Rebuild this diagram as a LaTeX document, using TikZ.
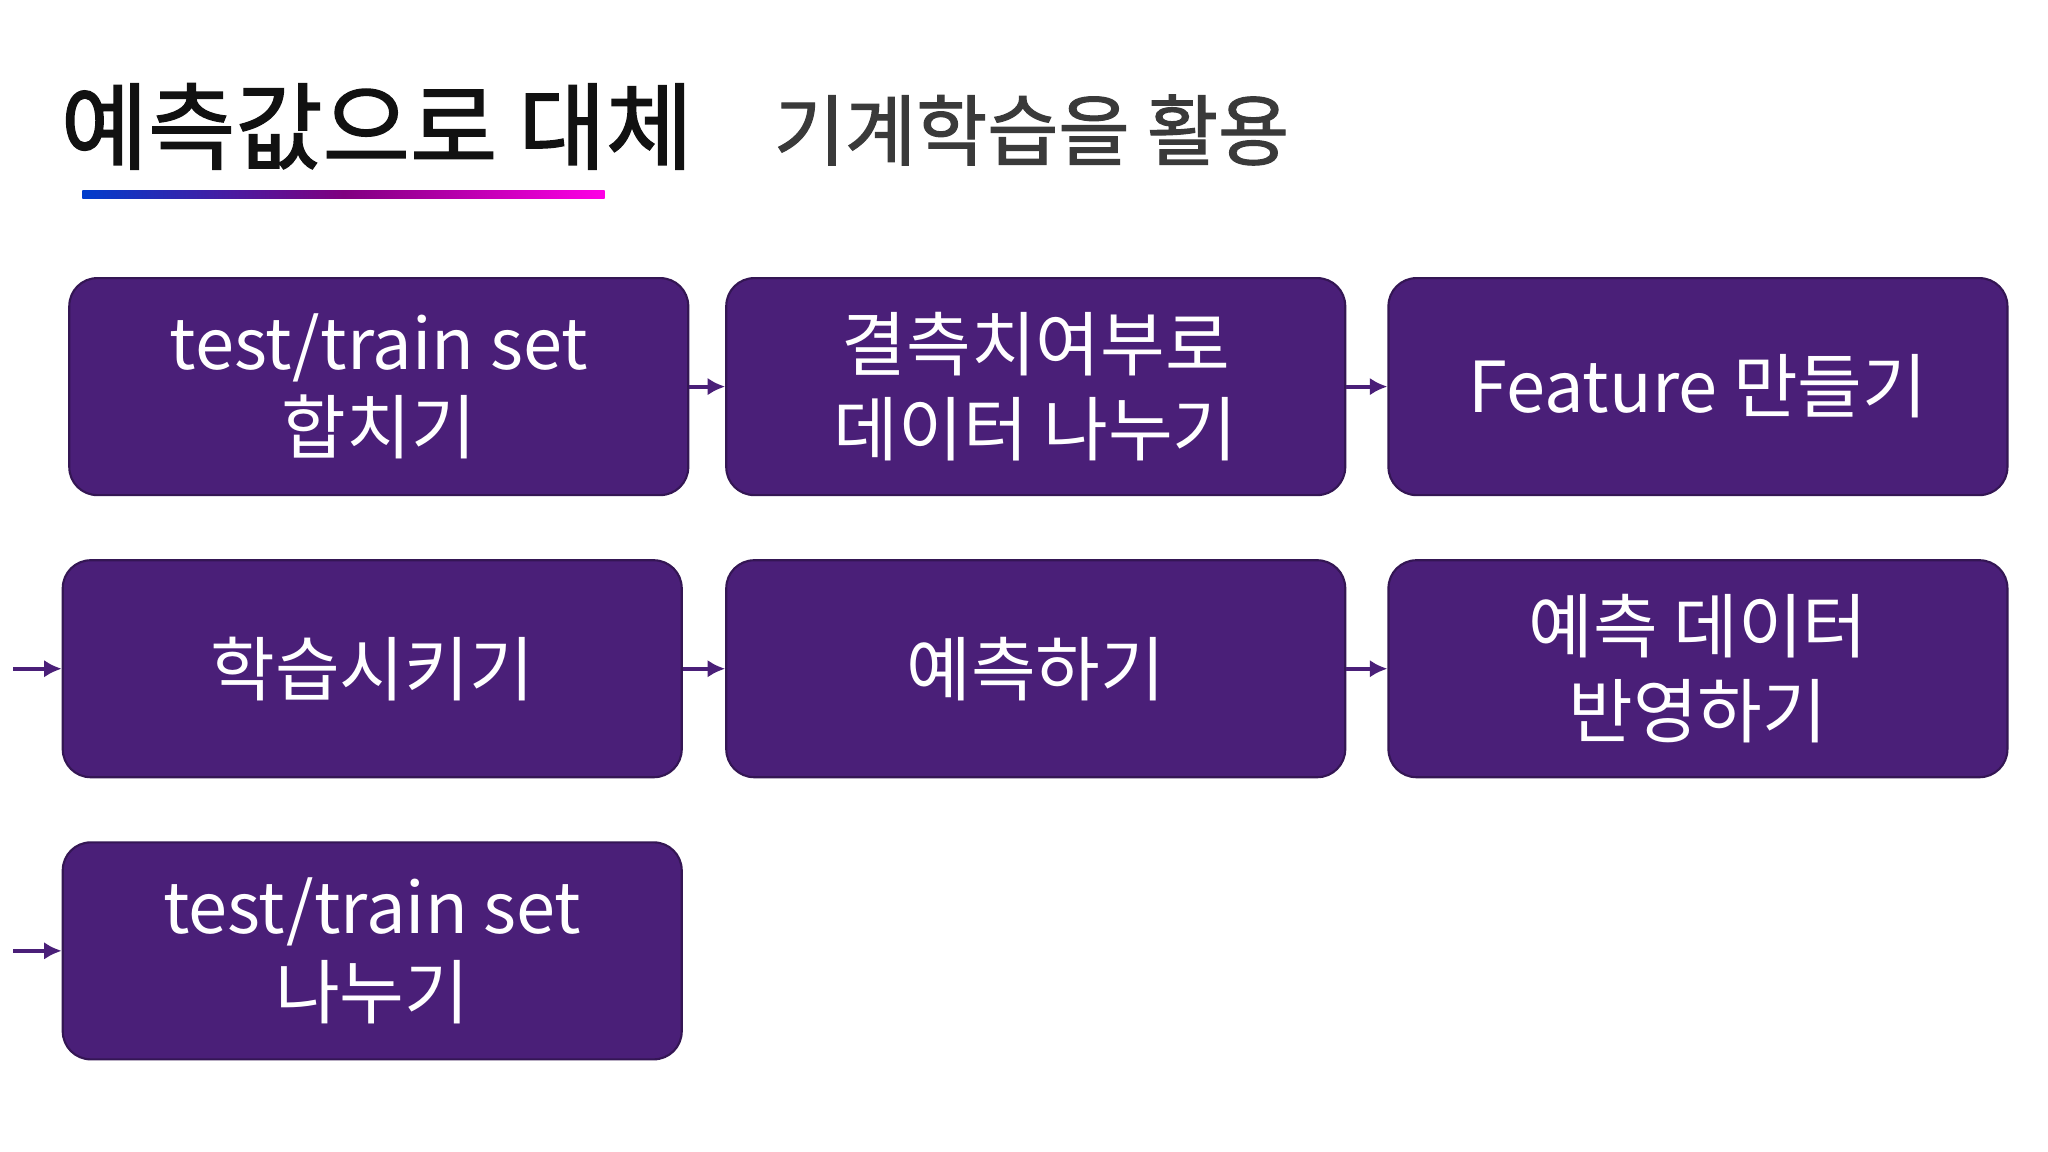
\documentclass[tikz,border=0pt]{standalone}
\usepackage{fontspec}
\setmainfont{Noto Sans CJK KR}
\newfontfamily\krbold[FakeBold=1.5]{Noto Sans CJK KR}
\usetikzlibrary{arrows.meta}
\definecolor{boxc}{HTML}{4A1F78}
\definecolor{arrc}{HTML}{4A1F78}
\definecolor{ttl}{HTML}{111111}
\definecolor{sub}{HTML}{3A3A3A}
\tikzset{
  stepbox/.style={draw=boxc!70!black, line width=0.6pt, fill=boxc, rounded corners=0.28cm, minimum width=6.19cm, minimum height=2.17cm, text=white, align=center, font=\fontsize{20}{24}\selectfont, inner sep=0pt},
  flow/.style={draw=arrc, line width=1.2pt, -{Latex[length=5pt,width=5pt]}}
}
\begin{document}
\begin{tikzpicture}[x=0.01306cm,y=-0.01306cm]
\useasboundingbox[fill=white] (0,0) rectangle (1568,882);
\node[anchor=base west, text=ttl, font=\krbold\fontsize{27}{30}\selectfont, inner sep=0pt] (t1) at (46,124) {예측값으로 대체};
\node[anchor=base west, text=sub, font=\krbold\fontsize{22}{26}\selectfont, inner sep=0pt] (t2) at (592,122) {기계학습을 활용};
\shade[left color=blue!70!cyan!80!black, right color=magenta!90!red, middle color=violet] (63,146) rectangle (463,152);
\node[stepbox] (b1) at (290,296) {test/train set\\합치기};
\node[stepbox] (b2) at (793,296) {결측치여부로\\데이터 나누기};
\node[stepbox] (b3) at (1300,296) {Feature 만들기};
\node[stepbox] (b4) at (285,512) {학습시키기};
\node[stepbox] (b5) at (793,512) {예측하기};
\node[stepbox] (b6) at (1300,512) {예측 데이터\\반영하기};
\node[stepbox] (b7) at (285,728) {test/train set\\나누기};
\coordinate (s4) at (10,512);
\coordinate (s7) at (10,728);
\draw[flow] (b1) -- (b2);
\draw[flow] (b2) -- (b3);
\draw[flow] (b4) -- (b5);
\draw[flow] (b5) -- (b6);
\draw[flow] (s4) -- (b4);
\draw[flow] (s7) -- (b7);
\end{tikzpicture}
\end{document}
